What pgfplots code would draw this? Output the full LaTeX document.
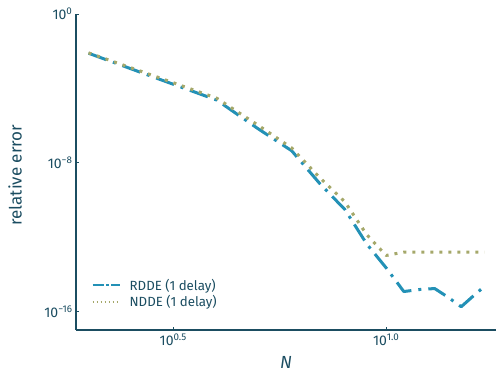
\documentclass[border=0pt]{standalone}
\usepackage{fontspec}
\setmainfont{Fira Sans}
\usepackage{pgfplots}
\pgfplotsset{compat=1.18}
\definecolor{axc}{HTML}{1B4D61}
\definecolor{rdde}{HTML}{2391B6}
\definecolor{ndde}{HTML}{A5A86A}
\begin{document}
\begin{tikzpicture}
\begin{axis}[
  name=ax,
  scale only axis, width=420pt, height=316pt,
  xmode=log, ymode=log,
  xmin=1.869, xmax=18.11, ymin=1e-17, ymax=1,
  axis lines=left,
  axis line style={-, draw=axc, line width=1.6pt},
  xtick={3.16227766,10},
  xticklabels={10\textsuperscript{0.5},10\textsuperscript{1.0}},
  ytick={1e-16,1e-8,1},
  yticklabels={10\textsuperscript{−16},10\textsuperscript{−8},10\textsuperscript{0}},
  xminorticks=false, yminorticks=false,
  tick style={draw=axc, line width=0.7pt},
  tick align=inside, major tick length=3.5pt,
  tick label style={font=\fontsize{14}{16}\selectfont, text=axc},
  xlabel={\textit{N}},
  ylabel={relative error},
  xlabel style={at={(axis description cs:0.5,-0.104)}, anchor=center, font=\fontsize{17.5}{20}\selectfont, text=axc},
  ylabel style={at={(axis description cs:-0.145,0.49)}, anchor=center, font=\fontsize{17}{20}\selectfont, text=axc},
  legend style={at={(axis description cs:0.03,0.055)}, anchor=south west, draw=none, fill=none,
     font=\fontsize{13.3}{15}\selectfont, row sep=0pt},
  legend cell align=left,
]
\addplot[color=rdde, line width=3pt, dash pattern=on 19pt off 7pt on 3pt off 7pt, line join=round,
  legend image code/.code={\draw[color=rdde, line width=1.7pt, dash pattern=on 11pt off 2.5pt on 2.5pt off 2.5pt] (0pt,0pt)--(27pt,0pt); \path[draw=none] (0pt,0pt) (35pt,0pt);}]
  table[x=N, y expr=10^\thisrow{ly}] {
N ly
2 -2.11
3 -3.59
4 -4.63
5 -6.17
6 -7.36
7 -9.15
8 -10.52
9 -12.37
10 -13.66
11 -14.93
12 -14.82
13 -14.77
14 -15.25
15 -15.75
16 -15.18
17 -14.66
};
\addlegendentry{\textcolor{axc}{RDDE (1 delay)}}
\addplot[color=ndde, line width=3pt, dash pattern=on 3pt off 6pt, line join=round,
  legend image code/.code={\draw[color=ndde, line width=1.5pt, dash pattern=on 1.5pt off 2.5pt] (0pt,0pt)--(27pt,0pt); \path[draw=none] (0pt,0pt) (35pt,0pt);}]
  table[x=N, y expr=10^\thisrow{ly}] {
N ly
2 -2.09
3 -3.51
4 -4.53
5 -5.98
6 -7.21
7 -8.83
8 -10.11
9 -11.87
10 -12.99
11 -12.81
12 -12.81
13 -12.81
14 -12.81
15 -12.81
16 -12.81
17 -12.81
};
\addlegendentry{\textcolor{axc}{NDDE (1 delay)}}
\end{axis}
\pgfresetboundingbox
\path ([xshift=-76pt,yshift=-44pt]ax.south west) rectangle ([yshift=14pt]ax.north east);
\end{tikzpicture}
\end{document}
